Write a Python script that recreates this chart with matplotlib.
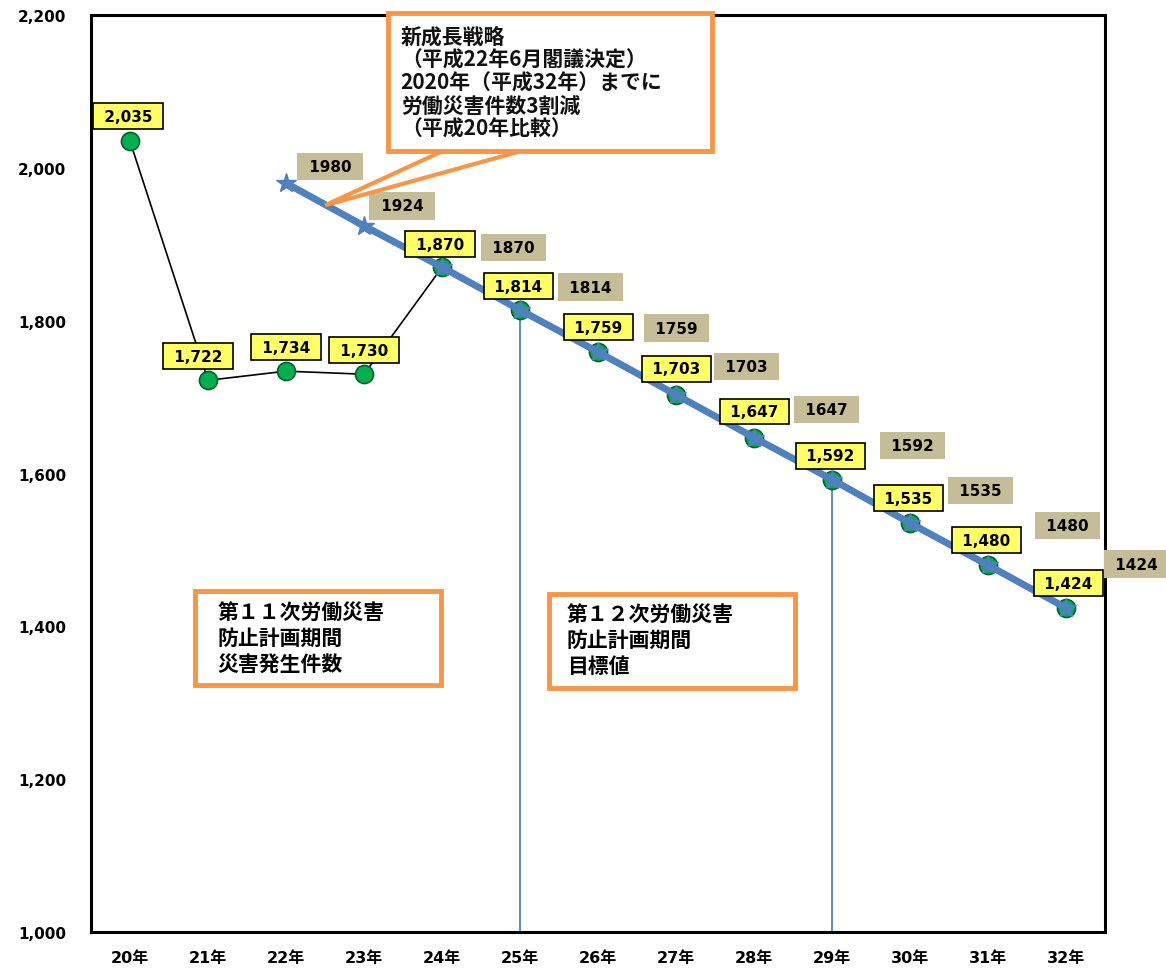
import matplotlib.pyplot as plt
from matplotlib.patches import Rectangle, Polygon
from matplotlib.ticker import FuncFormatter

plt.rcParams['font.family'] = ['DejaVu Sans', 'Noto Sans CJK JP']
plt.rcParams['font.weight'] = 'bold'

# Data
years = ['20年', '21年', '22年', '23年', '24年', '25年', '26年',
         '27年', '28年', '29年', '30年', '31年', '32年']
actual = [2035, 1722, 1734, 1730, 1870, 1814, 1759, 1703, 1647, 1592, 1535, 1480, 1424]
target_years = years[2:]
target = [1980, 1924, 1870, 1814, 1759, 1703, 1647, 1592, 1535, 1480, 1424]
drop_years = ['25年', '29年']

# label offsets in pixels (layout only)
yellow_off = [(-2, 25), (-10, 24), (0, 24), (0, 24), (-2, 23), (-2, 24), (0, 25),
              (0, 26), (0, 26), (-2, 24), (-2, 25), (-2, 25), (2, 25)]
tan_off = [(44, 17), (38, 20), (71, 20), (70, 23), (78, 24), (70, 28),
           (72, 28), (80, 34), (70, 33), (79, 40), (70, 44)]

orange = '#f79646'
blue = '#4f81bd'
jp = ['Noto Sans CJK JP', 'DejaVu Sans']

fig = plt.figure(figsize=(11.66, 9.70), dpi=100)
ax = fig.add_axes([0.078, 0.038, 0.870, 0.9455])

xi = list(range(len(years)))
tx = [years.index(y) for y in target_years]

ax.plot(xi, actual, color='black', lw=1.2, marker='o', ms=13,
        mfc='#00b050', mec='#00602a', mew=1.2, zorder=3)
ax.plot(tx, target, color=blue, lw=5, marker='*', ms=15,
        mfc=blue, mec=blue, zorder=4, solid_capstyle='round')

for y in drop_years:
    i = years.index(y)
    ax.vlines(i, 1000, actual[i], color=blue, lw=1.3, zorder=2)

for i, v in enumerate(actual):
    ax.annotate(f' {v:,} ', (i, v), xytext=yellow_off[i], textcoords='offset pixels',
                ha='center', va='center', fontsize=11, fontweight='bold',
                bbox=dict(boxstyle='square,pad=0.35', fc='#ffff66', ec='black', lw=1.2),
                zorder=7, annotation_clip=False)

for j, v in enumerate(target):
    ax.annotate(f' {v} ', (tx[j], v), xytext=tan_off[j], textcoords='offset pixels',
                ha='center', va='center', fontsize=11, fontweight='bold',
                bbox=dict(boxstyle='square,pad=0.4', fc='#c4bd97', ec='none'),
                zorder=6, annotation_clip=False)

ax.set_xlim(-0.5, len(years) - 0.5)
ax.set_ylim(1000, 2200)
ax.set_yticks(range(1000, 2201, 200))
ax.yaxis.set_major_formatter(FuncFormatter(lambda v, p: f'{int(v):,}'))
ax.set_xticks(xi)
ax.set_xticklabels(years)
ax.tick_params(length=0)
ax.tick_params(axis='y', pad=18, labelsize=11)
ax.tick_params(axis='x', pad=13, labelsize=11.5)
for s in ax.spines.values():
    s.set_linewidth(2.2)
    s.set_color('black')

# callout box
tail = Polygon([(4.0, 2021.6), (2.5, 1951), (5.0, 2021.6)], closed=False,
               fc='none', ec=orange, lw=3, zorder=8, clip_on=False)
ax.add_patch(tail)
ax.add_patch(Rectangle((3.31, 2021.6), 4.15, 180.5, fc='white', ec=orange, lw=3.5,
                       zorder=9, clip_on=False))
ax.text(3.47, 2112, '新成長戦略\n（平成22年6月閣議決定）\n2020年（平成32年）までに\n労働災害件数3割減\n（平成20年比較）',
        ha='left', va='center', fontsize=15, fontweight='bold', family=jp,
        linespacing=1.12, color='#111111', zorder=10)

# period boxes
ax.add_patch(Rectangle((0.83, 1323), 3.16, 123, fc='white', ec=orange, lw=3.5, zorder=5))
ax.text(1.12, 1386, '第１１次労働災害\n防止計画期間\n災害発生件数', ha='left', va='center',
        fontsize=15, fontweight='bold', family=jp, linespacing=1.28, zorder=6)
ax.add_patch(Rectangle((5.37, 1320), 3.15, 123, fc='white', ec=orange, lw=3.5, zorder=5))
ax.text(5.6, 1383, '第１２次労働災害\n防止計画期間\n目標値', ha='left', va='center',
        fontsize=15, fontweight='bold', family=jp, linespacing=1.28, zorder=6)

plt.savefig('out.png', dpi=100)
